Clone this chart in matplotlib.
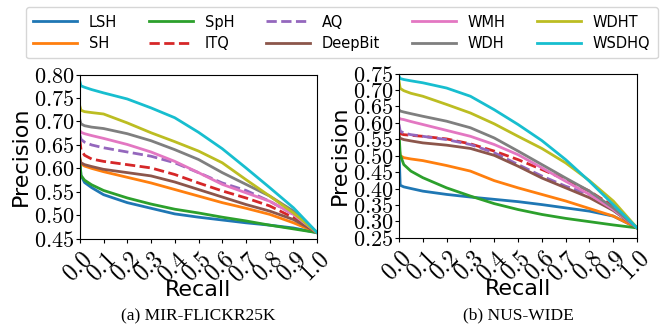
import matplotlib
matplotlib.use("Agg")
import matplotlib.pyplot as plt
from matplotlib.ticker import FuncFormatter

plt.rcParams['mathtext.fontset'] = 'cm'

methods = ["LSH", "SH", "SpH", "ITQ", "AQ", "DeepBit", "WMH", "WDH", "WDHT", "WSDHQ"]
colors = ["#1f77b4", "#ff7f0e", "#2ca02c", "#d62728", "#9467bd",
          "#8c564b", "#e377c2", "#7f7f7f", "#bcbd22", "#17becf"]
styles = ["-", "-", "-", "--", "--", "-", "-", "-", "-", "-"]

recall = [0.0, 0.005, 0.02, 0.05, 0.1, 0.2, 0.3, 0.4, 0.5, 0.6, 0.7, 0.8, 0.9, 1.0]

# MIR-FLICKR25K
mir = {
    "LSH":     [0.62, 0.585, 0.570, 0.559, 0.544, 0.527, 0.515, 0.503, 0.496, 0.490, 0.484, 0.479, 0.473, 0.463],
    "SH":      [0.624, 0.610, 0.605, 0.600, 0.593, 0.581, 0.569, 0.555, 0.541, 0.527, 0.515, 0.502, 0.484, 0.463],
    "SpH":     [0.615, 0.585, 0.575, 0.565, 0.553, 0.537, 0.524, 0.513, 0.505, 0.496, 0.488, 0.479, 0.471, 0.463],
    "ITQ":     [0.662, 0.640, 0.628, 0.620, 0.615, 0.608, 0.601, 0.587, 0.569, 0.552, 0.537, 0.520, 0.495, 0.463],
    "AQ":      [0.672, 0.662, 0.656, 0.650, 0.644, 0.635, 0.626, 0.612, 0.591, 0.569, 0.553, 0.530, 0.502, 0.463],
    "DeepBit": [0.619, 0.612, 0.608, 0.604, 0.598, 0.591, 0.584, 0.571, 0.555, 0.539, 0.523, 0.509, 0.491, 0.463],
    "WMH":     [0.681, 0.677, 0.674, 0.670, 0.664, 0.651, 0.635, 0.615, 0.591, 0.566, 0.548, 0.530, 0.502, 0.463],
    "WDH":     [0.704, 0.695, 0.691, 0.688, 0.685, 0.674, 0.659, 0.640, 0.619, 0.591, 0.566, 0.541, 0.509, 0.463],
    "WDHT":    [0.733, 0.724, 0.721, 0.719, 0.716, 0.697, 0.676, 0.657, 0.637, 0.612, 0.576, 0.541, 0.505, 0.463],
    "WSDHQ":   [0.786, 0.776, 0.773, 0.768, 0.761, 0.748, 0.729, 0.708, 0.677, 0.642, 0.601, 0.559, 0.516, 0.463],
}

# NUS-WIDE
nus = {
    "LSH":     [0.52, 0.410, 0.405, 0.400, 0.392, 0.382, 0.374, 0.367, 0.360, 0.351, 0.341, 0.331, 0.316, 0.280],
    "SH":      [0.53, 0.500, 0.494, 0.490, 0.485, 0.470, 0.453, 0.424, 0.402, 0.382, 0.362, 0.339, 0.316, 0.280],
    "SpH":     [0.574, 0.503, 0.473, 0.453, 0.433, 0.402, 0.377, 0.354, 0.336, 0.321, 0.309, 0.299, 0.289, 0.280],
    "ITQ":     [0.572, 0.567, 0.564, 0.562, 0.559, 0.551, 0.536, 0.514, 0.488, 0.458, 0.427, 0.392, 0.346, 0.280],
    "AQ":      [0.595, 0.575, 0.569, 0.564, 0.559, 0.549, 0.534, 0.509, 0.473, 0.438, 0.407, 0.382, 0.339, 0.280],
    "DeepBit": [0.559, 0.553, 0.549, 0.545, 0.539, 0.532, 0.522, 0.501, 0.468, 0.432, 0.402, 0.372, 0.333, 0.280],
    "WMH":     [0.615, 0.612, 0.610, 0.604, 0.595, 0.577, 0.559, 0.534, 0.503, 0.463, 0.422, 0.382, 0.336, 0.280],
    "WDH":     [0.640, 0.636, 0.633, 0.628, 0.620, 0.605, 0.585, 0.554, 0.514, 0.473, 0.432, 0.392, 0.341, 0.280],
    "WDHT":    [0.727, 0.705, 0.698, 0.690, 0.681, 0.656, 0.630, 0.597, 0.559, 0.522, 0.478, 0.424, 0.362, 0.280],
    "WSDHQ":   [0.742, 0.735, 0.732, 0.728, 0.722, 0.706, 0.681, 0.640, 0.595, 0.546, 0.488, 0.422, 0.351, 0.280],
}

xticks = [0.0, 0.1, 0.2, 0.3, 0.4, 0.5, 0.6, 0.7, 0.8, 0.9, 1.0]
panels = [
    (mir, (0.45, 0.80), "(a) MIR-FLICKR25K"),
    (nus, (0.25, 0.75), "(b) NUS-WIDE"),
]

fig = plt.figure(figsize=(6.65, 3.33), dpi=100)
ax_pos = [[0.120, 0.283, 0.357, 0.493], [0.600, 0.286, 0.358, 0.493]]

fmt = FuncFormatter(lambda v, p: r"$%.2f$" % v)
xfmt = FuncFormatter(lambda v, p: r"$%.1f$" % v)

for (data, ylim, caption), pos in zip(panels, ax_pos):
    ax = fig.add_axes(pos)
    for m, c, ls in zip(methods, colors, styles):
        ax.plot(recall, data[m], color=c, linestyle=ls, linewidth=2, label=m)
    ax.set_xlim(0, 1)
    ax.set_ylim(*ylim)
    ax.set_xticks(xticks)
    ax.set_yticks([round(ylim[0] + 0.05 * i, 2) for i in range(int(round((ylim[1] - ylim[0]) / 0.05)) + 1)])
    ax.xaxis.set_major_formatter(xfmt)
    ax.yaxis.set_major_formatter(fmt)
    ax.tick_params(axis='y', labelsize=16, length=3, pad=1)
    ax.tick_params(axis='x', labelsize=17, length=3, pad=3, labelrotation=45)
    for lab in ax.get_xticklabels():
        lab.set_ha('right')
        lab.set_rotation_mode('anchor')
    ax.set_ylabel("Precision", fontsize=16, labelpad=2)
    ax.set_xlabel("Recall", fontsize=16)
    ax.xaxis.set_label_coords(0.5, -0.25)
    ax.text(0.5, -0.47, caption, transform=ax.transAxes, ha='center', va='center',
            fontsize=12.5, family='Liberation Serif')

handles, labels = fig.axes[0].get_legend_handles_labels()
fig.legend(handles, labels, ncol=5, loc='upper center', bbox_to_anchor=(0.514, 1.0),
           fontsize=10.5, handlelength=3.0, columnspacing=2.2, labelspacing=0.45,
           borderpad=0.5, frameon=True)

fig.savefig("out.png", dpi=100)
